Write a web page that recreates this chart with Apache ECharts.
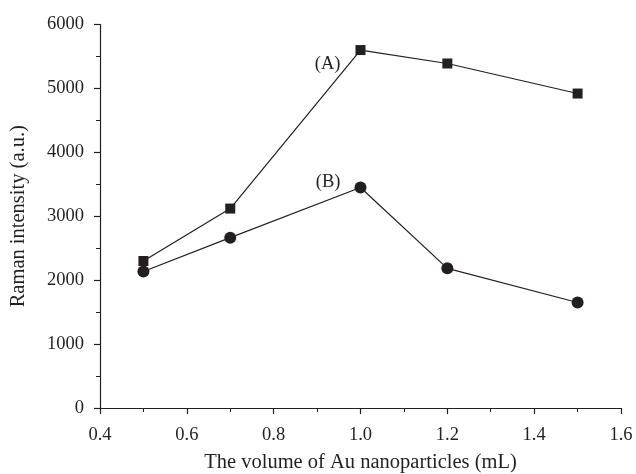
<!DOCTYPE html>
<html><head><meta charset="utf-8">
<script src="https://cdn.jsdelivr.net/npm/echarts@6/dist/echarts.min.js"></script>
<style>html,body{margin:0;padding:0;background:#fff}#c{width:636px;height:474px}</style>
</head><body><div id="c"></div>
<script>
const xValues = [0.5, 0.7, 1.0, 1.2, 1.5];
const seriesA = [2300, 3120, 5600, 5390, 4920];
const seriesB = [2135, 2665, 3450, 2185, 1650];
const labelA = '(A)';
const labelB = '(B)';
const xName = 'The volume of Au nanoparticles (mL)';
const yName = 'Raman intensity (a.u.)';

const ink = '#231f20';
const font = 'Liberation Serif';
const fs = 18.5;
const nfs = 20.5;
const chart = echarts.init(document.getElementById('c'), null, {renderer: 'canvas'});
function pts(vals, label, lblOffset) {
  return vals.map((v, i) => {
    const d = {value: [xValues[i], v]};
    if (i === 2) d.label = {show: true, formatter: label, position: 'left', offset: lblOffset,
      color: ink, fontFamily: font, fontSize: fs};
    return d;
  });
}
const axisCommon = {
  axisLine: {show: true, onZero: false, lineStyle: {color: ink, width: 1.2}},
  axisTick: {show: true, inside: false, length: 6, lineStyle: {color: ink, width: 1.2}},
  minorTick: {show: true, splitNumber: 2, length: 4, lineStyle: {color: ink, width: 1}},
  splitLine: {show: false},
  nameTextStyle: {color: ink, fontFamily: font, fontSize: nfs}
};
chart.setOption({
  animation: false,
  grid: {left: 100, right: 15, top: 24.5, bottom: 66, containLabel: false, outerBoundsMode: 'none'},
  xAxis: Object.assign({}, axisCommon, {
    type: 'value', min: 0.4, max: 1.6, interval: 0.2,
    name: xName, nameLocation: 'middle', nameGap: 44,
    axisLabel: {color: ink, fontFamily: font, fontSize: fs, margin: 18, formatter: v => v.toFixed(1)}
  }),
  yAxis: Object.assign({}, axisCommon, {
    type: 'value', min: 0, max: 6000, interval: 1000,
    name: yName, nameLocation: 'middle', nameGap: 71,
    axisLabel: {color: ink, fontFamily: font, fontSize: fs, margin: 16, formatter: v => String(v)}
  }),
  series: [
    {type: 'line', data: pts(seriesA, labelA, [-10, 14]), symbol: 'rect', symbolSize: 10,
     lineStyle: {color: ink, width: 1.2}, itemStyle: {color: ink}},
    {type: 'line', data: pts(seriesB, labelB, [-9, -5]), symbol: 'circle', symbolSize: 12,
     lineStyle: {color: ink, width: 1.2}, itemStyle: {color: ink}}
  ]
});
</script></body></html>
